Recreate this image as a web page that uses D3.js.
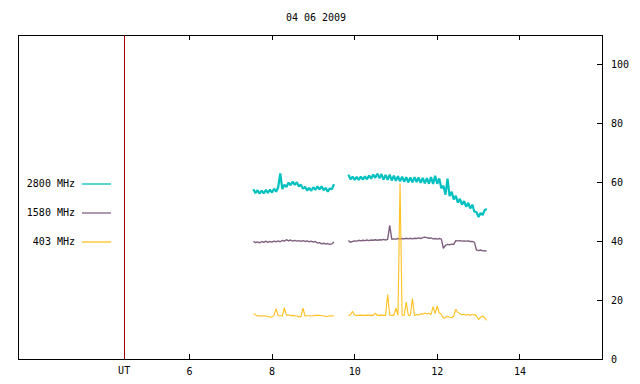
<!DOCTYPE html>
<html>
<head>
<meta charset="utf-8">
<script src="https://cdn.jsdelivr.net/npm/d3@7"></script>
<style>
  body { margin: 0; background: #fff; }
  svg { display: block; }
  text { font-family: 'DejaVu Sans Mono', 'Liberation Mono', monospace; font-size: 10px; fill: #000; }
  .axis line { stroke: #000; shape-rendering: crispEdges; }
</style>
</head>
<body>
<svg id="chart" width="640" height="384"></svg>
<script>
// title / ticks
const title = '04 06 2009';
const xTicks = [6, 8, 10, 12, 14];
const yTicks = [0, 20, 40, 60, 80, 100];
const utHour = 4.43; // red marker line, labelled "UT"

// samples every 0.05 h, two observing segments
const seg1Start = 7.56;
const seg2Start = 9.86;
const sampleStep = 0.05;

const mhz2800a = [57.6, 56.3, 57.3, 56.1, 57.2, 56.2, 57.4, 56.4, 57.5, 56.5,
  57.8, 56.8, 58.3, 63.0, 57.7, 59.2, 58.4, 59.9, 59.0, 60.2,
  59.1, 60.0, 58.6, 59.2, 57.8, 58.5, 57.2, 58.1, 57.1, 58.3,
  57.4, 58.6, 57.6, 58.6, 57.3, 58.1, 56.8, 57.9, 57.6, 59.4];
const mhz2800b = [62.6, 61.0, 61.9, 60.8, 61.8, 60.8, 61.9, 60.9, 62.0, 61.0,
  62.3, 61.2, 62.6, 61.5, 62.9, 61.4, 62.8, 60.9, 62.5, 60.8,
  62.6, 60.6, 62.2, 60.5, 62.1, 60.3, 61.9, 60.2, 61.7, 60.0,
  61.6, 60.0, 61.7, 60.1, 61.6, 59.8, 61.5, 59.6, 61.4, 59.5,
  61.8, 59.4, 62.2, 59.5, 61.3, 58.0, 58.8, 55.8, 61.2, 55.3,
  56.8, 54.2, 55.4, 53.1, 54.4, 52.4, 53.6, 51.7, 53.0, 51.1,
  52.4, 50.0, 49.9, 48.2, 49.6, 48.9, 50.6, 50.9];

const mhz1580a = [39.9, 39.5, 39.8, 39.4, 39.9, 39.6, 40.0, 39.6, 39.9, 39.7,
  40.0, 39.8, 40.1, 39.8, 40.3, 40.0, 40.5, 40.1, 40.4, 40.0,
  40.3, 40.0, 40.2, 39.9, 40.2, 39.9, 40.1, 39.8, 40.0, 39.7,
  39.9, 39.4, 39.5, 39.1, 39.3, 39.0, 39.2, 38.9, 39.1, 39.7];
const mhz1580b = [40.2, 39.6, 39.9, 40.1, 40.0, 40.3, 40.1, 40.3, 40.2, 40.4,
  40.2, 40.4, 40.3, 40.5, 40.3, 40.5, 40.4, 40.6, 40.4, 40.6,
  45.4, 40.6, 40.8, 40.7, 40.9, 40.7, 40.9, 40.8, 41.0, 40.8,
  41.0, 40.8, 41.0, 40.9, 41.1, 40.9, 41.2, 41.4, 41.2, 41.0,
  41.1, 40.8, 40.9, 40.7, 40.9, 40.7, 37.6, 38.6, 38.9, 38.8,
  39.0, 38.9, 40.2, 40.1, 40.2, 40.0, 40.1, 40.0, 40.1, 39.9,
  39.9, 39.6, 37.0, 36.8, 37.0, 36.7, 36.8, 36.6];

const mhz403a = [15.4, 15.0, 14.6, 14.7, 14.6, 14.7, 14.6, 14.4, 14.2, 14.3,
  14.8, 17.1, 14.7, 14.7, 14.6, 17.4, 14.8, 15.0, 14.7, 14.8,
  14.7, 14.6, 14.3, 14.3, 17.3, 14.6, 14.7, 14.7, 14.6, 14.7,
  14.8, 14.8, 14.8, 14.7, 14.7, 14.4, 14.5, 14.7, 14.6, 14.8];
const mhz403b = [14.8, 14.9, 16.2, 14.9, 14.8, 14.8, 14.9, 14.8, 14.8, 14.9,
  14.8, 14.9, 14.8, 15.6, 14.8, 14.8, 14.9, 14.8, 14.8, 21.9,
  14.9, 14.8, 14.8, 17.3, 14.8, 59.6, 14.9, 14.8, 19.3, 14.8,
  14.9, 20.5, 14.8, 15.1, 14.9, 15.4, 15.2, 15.6, 15.3, 15.5,
  15.1, 17.8, 15.4, 18.0, 15.6, 15.2, 13.8, 14.1, 14.5, 14.2,
  14.0, 14.6, 16.9, 15.8, 15.4, 15.0, 15.2, 14.9, 15.1, 14.9,
  15.0, 15.1, 14.6, 13.4, 14.2, 14.6, 14.0, 13.1];

const seriesNames = ['2800 MHz', '1580 MHz', '403 MHz'];
const seriesColors = ['#00c0c0', '#806080', '#ffc020'];
const seriesData = [[mhz2800a, mhz2800b], [mhz1580a, mhz1580b], [mhz403a, mhz403b]];

const margin = { left: 18, right: 38, top: 35, bottom: 25 };
const width = 640 - margin.left - margin.right;
const height = 384 - margin.top - margin.bottom;

const svg = d3.select('#chart');
const root = svg.append('g').attr('transform', `translate(${margin.left}, ${margin.top})`);

const x = d3.scaleLinear().domain([1.86, 16]).range([0, width]);
const y = d3.scaleLinear().domain([0, 110]).range([height, 0]);

svg.append('text')
  .attr('x', 316)
  .attr('y', 18)
  .attr('text-anchor', 'middle')
  .attr('dominant-baseline', 'middle')
  .text(title);

// axes with inward ticks
root.append('g')
  .attr('class', 'axis')
  .attr('transform', `translate(0, ${height})`)
  .call(d3.axisBottom(x).tickValues(xTicks).tickSize(-5).tickPadding(9).tickFormat(d => d))
  .call(g => g.select('.domain').remove());

root.append('g')
  .attr('class', 'axis')
  .call(d3.axisTop(x).tickValues(xTicks).tickSize(-5).tickFormat(''))
  .call(g => g.select('.domain').remove());

root.append('g')
  .attr('class', 'axis')
  .attr('transform', `translate(${width}, 0)`)
  .call(d3.axisRight(y).tickValues(yTicks).tickSize(-5).tickPadding(9).tickFormat(d => d))
  .call(g => g.select('.domain').remove());

root.selectAll('.axis text').attr('font-size', 10).attr('font-family', 'DejaVu Sans Mono');

root.append('text')
  .attr('x', x(utHour))
  .attr('y', height + 12)
  .attr('text-anchor', 'middle')
  .attr('dominant-baseline', 'middle')
  .text('UT');

// frame
root.append('rect')
  .attr('x', 0).attr('y', 0)
  .attr('width', width).attr('height', height)
  .attr('fill', 'none')
  .attr('stroke', '#000')
  .attr('shape-rendering', 'crispEdges');

// UT marker
root.append('line')
  .attr('x1', x(utHour)).attr('x2', x(utHour))
  .attr('y1', 0).attr('y2', height)
  .attr('stroke', '#a00000')
  .attr('shape-rendering', 'crispEdges');

const line = d3.line().x(d => x(d[0])).y(d => y(d[1]));
const starts = [seg1Start, seg2Start];
const widths = [2.2, 1.4, 1.1];

seriesData.forEach((segs, si) => {
  segs.forEach((vals, k) => {
    const pts = vals.map((v, i) => [starts[k] + i * sampleStep, v]);
    root.append('path')
      .datum(pts)
      .attr('fill', 'none')
      .attr('stroke', seriesColors[si])
      .attr('stroke-width', widths[si])
      .attr('stroke-linejoin', 'bevel')
      .attr('d', line);
  });
});

// legend
const legend = svg.append('g');
seriesNames.forEach((name, i) => {
  const ly = 184 + i * 29;
  legend.append('text')
    .attr('x', 75).attr('y', ly)
    .attr('text-anchor', 'end')
    .attr('dominant-baseline', 'middle')
    .text(name);
  legend.append('line')
    .attr('x1', 82).attr('x2', 111)
    .attr('y1', ly).attr('y2', ly)
    .attr('stroke', seriesColors[i])
    .attr('stroke-width', 1.3);
});
</script>
</body>
</html>
